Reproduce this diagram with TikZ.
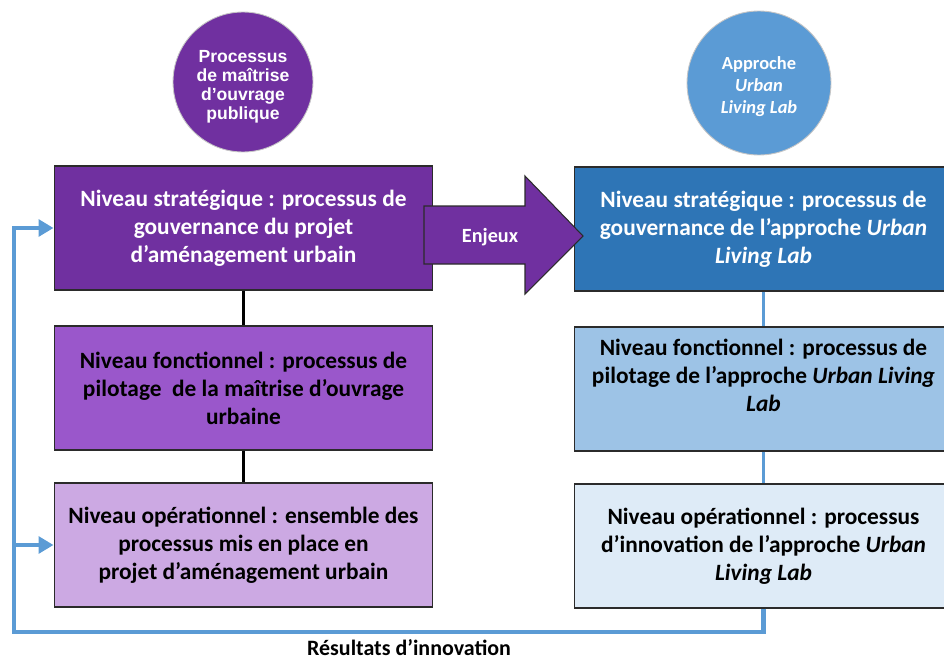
\documentclass[tikz,border=0pt]{standalone}
\usepackage{fontspec}
\setmainfont{Carlito}
\newfontfamily\circlefont{Liberation Sans}
\usepackage{xcolor}
\usepackage{tikz}
\usetikzlibrary{arrows.meta,positioning}
\definecolor{moaPurple}{HTML}{7030A0}
\definecolor{moaMid}{HTML}{9A57CB}
\definecolor{moaLight}{HTML}{CCA9E3}
\definecolor{ullBlue}{HTML}{2E75B6}
\definecolor{ullCircle}{HTML}{5B9BD5}
\definecolor{ullMid}{HTML}{9DC3E6}
\definecolor{ullLight}{HTML}{DEEBF7}
\definecolor{loopBlue}{HTML}{5B9BD5}
\definecolor{edgeInk}{HTML}{2B2B2B}
\tikzset{
  levelBox/.style={
    rectangle,
    draw=edgeInk,
    line width=0.6pt,
    minimum width=7.58cm,
    minimum height=2.48cm,
    align=center,
    inner sep=0pt,
    font=\fontsize{13.3}{16}\selectfont\bfseries
  },
  sourceCircle/.style={
    circle,
    draw=gray!45,
    line width=0.5pt,
    inner sep=0pt,
    align=center,
    text=white
  },
  levelLink/.style={
    line width=1.6pt,
    draw=black
  },
  loopLine/.style={
    line width=2.5pt,
    draw=loopBlue,
    -{Triangle[length=8.5pt,width=9.5pt]}
  },
  enjeuxShape/.style={
    draw=edgeInk,
    line width=0.6pt,
    fill=moaPurple
  }
}
\begin{document}
\begin{tikzpicture}[x=0.02cm,y=-0.02cm]
  \useasboundingbox (0,0) rectangle (944,659);
  % sources
  \node[sourceCircle,fill=moaPurple,minimum size=2.8cm,font=\circlefont\fontsize{10}{10.8}\selectfont\bfseries] (moaCircle) at (243,82) {\rule{0pt}{12.5pt}Processus\\de maîtrise\\d’ouvrage\\publique};
  \node[sourceCircle,fill=ullCircle,minimum size=2.88cm,font=\fontsize{10.5}{12.7}\selectfont\bfseries] (ullCircle) at (759,83) {\rule{0pt}{11.5pt}Approche\\\textit{Urban}\\\textit{Living Lab}};
  % left column
  \node[levelBox,fill=moaPurple,text=white] (stratLeft) at (243.5,228) {Niveau stratégique : processus de\\gouvernance du projet\\d’aménagement urbain};
  \node[levelBox,fill=moaMid] (fonctLeft) at (243.5,388) {Niveau fonctionnel : processus de\\pilotage~ de la maîtrise d’ouvrage\\urbaine};
  \node[levelBox,fill=moaLight] (opLeft) at (243.5,545) {Niveau opérationnel : ensemble des\\processus mis en place en\\projet d’aménagement urbain};
  % right column
  \node[levelBox,fill=ullBlue,text=white] (stratRight) at (763.5,229) {Niveau stratégique : processus de\\gouvernance de l’approche \textit{Urban}\\\textit{Living Lab}};
  \node[levelBox,fill=ullMid] (fonctRight) at (763.5,389) {Niveau fonctionnel : processus de\\pilotage de l’approche \textit{Urban Living}\\\textit{Lab}\\~};
  \node[levelBox,fill=ullLight] (opRight) at (763.5,546) {Niveau opérationnel : processus\\d’innovation de l’approche \textit{Urban}\\\textit{Living Lab}};
  \draw[levelLink] (stratLeft.south) -- (fonctLeft.north);
  \draw[levelLink] (fonctLeft.south) -- (opLeft.north);
  \draw[levelLink,draw=loopBlue,line width=1.8pt] (stratRight.south) -- (fonctRight.north);
  \draw[levelLink,draw=loopBlue,line width=1.8pt] (fonctRight.south) -- (opRight.north);
  % enjeux arrow
  \draw[enjeuxShape] (424,206) -- (525,206) -- (525,176) -- (583,236) -- (525,294) -- (525,264) -- (424,264) -- cycle;
  \node[text=white,font=\fontsize{11.5}{13}\selectfont\bfseries] (enjeux) at (490,237) {Enjeux};
  % feedback loop
  \coordinate (loopCorner) at (14,632);
  \draw[loopLine] (opRight.south) |- (loopCorner) |- (stratLeft.west);
  \draw[loopLine] (loopCorner |- opLeft.west) -- (opLeft.west);
  \node[font=\fontsize{12.5}{14}\selectfont\bfseries] (loopLabel) at (409,648) {Résultats d’innovation};
\end{tikzpicture}
\end{document}
